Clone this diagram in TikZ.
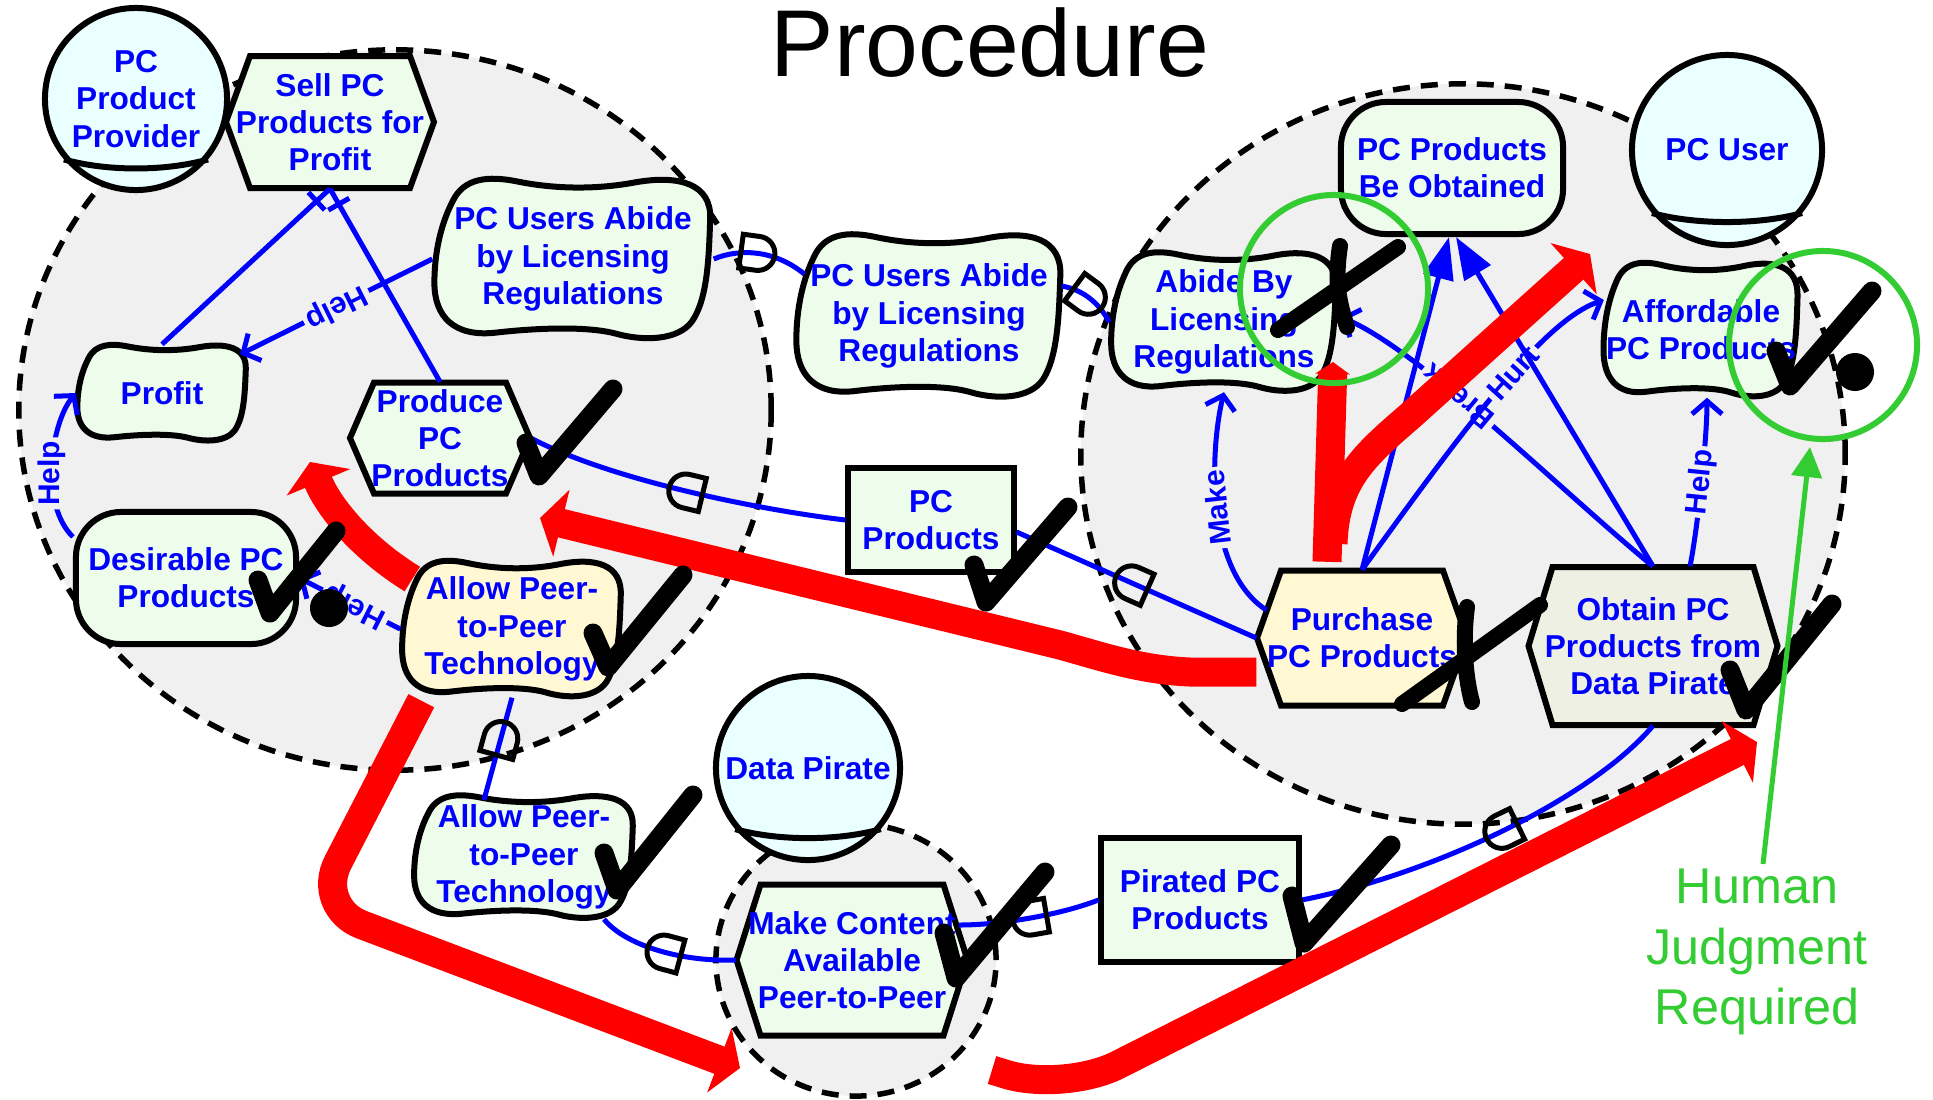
\documentclass[tikz,border=0pt]{standalone}
\usepackage{fontspec}
\setmainfont{Liberation Sans}
\usetikzlibrary{arrows.meta,positioning,shapes.misc}

\definecolor{textblue}{HTML}{0000FF}
\definecolor{linkblue}{HTML}{0000FF}
\definecolor{goalfill}{HTML}{EEFDEB}
\definecolor{actorfill}{HTML}{EAFFFF}
\definecolor{taskyellow}{HTML}{FFF8D2}
\definecolor{pirategray}{HTML}{EEF0E4}
\definecolor{bggray}{HTML}{F0F0F0}
\definecolor{judgegreen}{HTML}{33CC33}

% soft goal: name, x, y, width, height, fill, text
\newcommand{\softgoal}[7]{%
  \filldraw[softline, fill=#6, shift={(#2,#3)}, xscale=#4/2, yscale=#5/2]
    (-0.86,-0.72) .. controls (-0.78,-1.02) and (-0.6,-1.04) .. (-0.4,-0.97)
    .. controls (-0.15,-0.88) and (0.15,-0.86) .. (0.45,-0.96)
    .. controls (0.75,-1.05) and (0.99,-0.95) .. (0.98,-0.5)
    .. controls (0.97,0) and (0.96,0.5) .. (0.85,0.78)
    .. controls (0.75,1.02) and (0.5,1.03) .. (0.3,0.93)
    .. controls (0.1,0.84) and (-0.25,0.86) .. (-0.55,0.92)
    .. controls (-0.85,0.98) and (-0.99,0.72) .. (-0.99,0.3)
    .. controls (-0.99,-0.1) and (-0.94,-0.45) .. (-0.86,-0.72) -- cycle;
  \node[lbl, minimum width=#4*0.01cm, minimum height=#5*0.01cm] (#1) at (#2,#3) {#7};}

% task: name, x, y, width, height, fill, text
\newcommand{\taskhex}[7]{%
  \filldraw[softline, fill=#6] (#2-#4/2,#3) -- (#2-#4/2+24,#3-#5/2) -- (#2+#4/2-24,#3-#5/2)
    -- (#2+#4/2,#3) -- (#2+#4/2-24,#3+#5/2) -- (#2-#4/2+24,#3+#5/2) -- cycle;
  \node[lbl, minimum width=#4*0.01cm, minimum height=#5*0.01cm] (#1) at (#2,#3) {#7};}

\begin{document}
\begin{tikzpicture}[x=0.01cm, y=-0.01cm,
    boundary/.style={fill=bggray, draw=black, line width=0.055cm, dash pattern=on 0.17cm off 0.11cm},
    lbl/.style={text=textblue, font=\bfseries\fontsize{9}{10.6}\selectfont, align=center, inner sep=0pt},
    actorshape/.style={circle, draw=black, fill=actorfill, line width=0.06cm, lbl},
    softline/.style={draw=black, line width=0.06cm},
    goal/.style={rectangle, rounded corners=0.45cm, draw=black, fill=goalfill, line width=0.06cm, lbl},
    res/.style={rectangle, draw=black, fill=goalfill, line width=0.06cm, lbl},
    link/.style={draw=linkblue, line width=0.05cm},
    barb/.style={-{Straight Barb[length=0.13cm,width=0.3cm]}},
    meansend/.style={-{Triangle[length=0.42cm,width=0.3cm]}, fill=linkblue},
    linklbl/.style={text=linkblue, font=\bfseries\fontsize{8.5}{10}\selectfont, fill=bggray, inner sep=1pt, sloped, allow upside down},
    dbar/.style={rectangle, draw=linkblue, line width=0.05cm, minimum width=0pt, minimum height=0.24cm, inner sep=0pt, sloped},
    dmark/.style={rounded rectangle, rounded rectangle left arc=none, draw=black, line width=0.05cm,
      minimum width=0.28cm, minimum height=0.34cm, inner sep=0pt, sloped, allow upside down},
    redflow/.style={draw=red, line width=0.29cm, -{Triangle[length=0.22cm,width=0.68cm]}},
    checkmark/.style={draw=black, line width=0.19cm, line cap=round, line join=round},
    judge/.style={draw=judgegreen, line width=0.06cm}]
  \useasboundingbox (0,0) rectangle (1933,1099);

  % title
  \node[anchor=base, font=\fontsize{27}{32}\selectfont] (title) at (990,76) {Procedure};

  % actor boundaries
  \filldraw[boundary] (395,410) ellipse[x radius=3.76cm, y radius=3.6cm];
  \filldraw[boundary] (1463,454) ellipse[x radius=3.82cm, y radius=3.7cm];
  \filldraw[boundary] (856,960) ellipse[x radius=1.4cm, y radius=1.36cm];

  % actors
  \node[actorshape, minimum size=1.82cm] (ppp) at (136,99) {PC\\Product\\Provider};
  \draw[softline] (ppp.220) .. controls +(43,12) and +(-43,12) .. (ppp.320);
  \node[actorshape, minimum size=1.9cm] (pcu) at (1727,150) {PC User};
  \draw[softline] (pcu.220) .. controls +(44,12) and +(-44,12) .. (pcu.320);
  \node[actorshape, minimum size=1.84cm] (dpr) at (808,768) {Data Pirate};
  \draw[softline] (dpr.220) .. controls +(43,12) and +(-43,12) .. (dpr.320);

  % PC product provider
  \taskhex{sell}{330}{122}{208}{132}{goalfill}{Sell PC\\Products for\\Profit}
  \softgoal{pcua}{573}{259}{280}{160}{goalfill}{PC Users Abide\\by Licensing\\Regulations}
  \softgoal{profit}{162}{393}{171}{96}{goalfill}{Profit}
  \taskhex{produce}{440}{438}{180}{111}{goalfill}{Produce\\PC\\Products}
  \node[goal, minimum width=2.2cm, minimum height=1.32cm] (desirable) at (186,578) {Desirable PC\\Products};
  \softgoal{allowl}{512}{629}{222}{136}{taskyellow}{Allow Peer-\\to-Peer\\Technology}

  % dependums
  \softgoal{pcum}{929}{316}{268}{163}{goalfill}{PC Users Abide\\by Licensing\\Regulations}
  \node[res, minimum width=1.65cm, minimum height=1.03cm] (pcprod) at (931,520) {PC\\Products};
  \softgoal{allowm}{524}{857}{222}{123}{goalfill}{Allow Peer-\\to-Peer\\Technology}
  \node[res, minimum width=1.97cm, minimum height=1.24cm] (pirated) at (1200,900) {Pirated PC\\Products};

  % data pirate
  \taskhex{make}{852}{960}{231}{151}{goalfill}{Make Content\\Available\\Peer-to-Peer}

  % PC user
  \node[goal, minimum width=2.22cm, minimum height=1.32cm] (obtained) at (1452,168) {PC Products\\Be Obtained};
  \softgoal{abide}{1224}{322}{228}{139}{goalfill}{Abide By\\Licensing\\Regulations}
  \softgoal{afford}{1701}{330}{197}{134}{goalfill}{Affordable\\PC Products}
  \taskhex{purchase}{1362}{638}{210}{135}{taskyellow}{Purchase\\PC Products}
  \taskhex{obtain}{1653}{646}{249}{158}{pirategray}{Obtain PC\\Products from\\Data Pirate}

  % links inside actors
  \draw[link] (profit.north) -- (sell.south) node[dbar, pos=0.92] {};
  \draw[link] (produce.north) -- (sell.south) node[dbar, pos=0.92] {};
  \draw[link, barb] (pcua.west) -- ([shift={(-8,10)}]profit.north east) node[linklbl, pos=0.5] {Help};
  \draw[link, barb] (desirable.160) .. controls (40,505) and (50,425) .. (profit.west) node[linklbl, pos=0.45] {Help};
  \draw[link, barb] (allowl.west) -- (desirable.east) node[linklbl, pos=0.45] {Help};
  \draw[link, barb] ([shift={(10,-28)}]purchase.west) .. controls (1205,570) and (1210,450) .. (abide.south) node[linklbl, pos=0.5] {Make};
  \draw[link, barb] (obtain.north) .. controls (1560,490) and (1420,350) .. ([shift={(2,-5)}]abide.east) node[linklbl, pos=0.6] {Break};
  \draw[link, barb] (purchase.north) .. controls (1470,420) and (1545,320) .. ([shift={(2,-30)}]afford.west) node[linklbl, pos=0.55] {Hurt};
  \draw[link, barb] ([shift={(37,0)}]obtain.north) .. controls +(8,-40) and +(0,40) .. ([shift={(6,0)}]afford.south) node[linklbl, pos=0.5] {Help};
  \draw[link, meansend] (purchase.north) -- ([shift={(-3,0)}]obtained.south);
  \draw[link, meansend] (obtain.north) -- ([shift={(4,0)}]obtained.south);

  % dependencies
  \draw[link] (pcua.east) .. controls (740,248) and (775,250) .. ([shift={(10,-42)}]pcum.west) node[dmark, pos=0.5] {};
  \draw[link] ([shift={(-2,-30)}]pcum.east) .. controls (1085,290) and (1100,305) .. (abide.west) node[dmark, pos=0.45] {};
  \draw[link] (pcprod.west) .. controls (760,510) and (610,480) .. (produce.east) node[dmark, pos=0.5] {};
  \draw[link] (purchase.west) -- ([shift={(0,12)}]pcprod.east) node[dmark, pos=0.52] {};
  \draw[link] ([shift={(-40,5)}]allowm.north) -- (allowl.south) node[dmark, pos=0.6] {};
  \draw[link] (make.west) .. controls (680,962) and (625,945) .. ([shift={(80,0)}]allowm.south) node[dmark, pos=0.45] {};
  \draw[link] (pirated.west) .. controls (1060,915) and (1000,925) .. ([shift={(-9,-35)}]make.east) node[dmark, pos=0.5] {};
  \draw[link] (obtain.south) .. controls (1590,800) and (1430,875) .. (pirated.east) node[dmark, pos=0.5] {};

  % red propagation arrows
  \coordinate (redtipa) at (310,462);
  \coordinate (redtipb) at (540,518);
  \coordinate (redtipc) at (1333,362);
  \coordinate (redtipd) at (1590,254);
  \coordinate (redtipe) at (740,1068);
  \coordinate (redstartf) at (992,1070);
  \coordinate (redtipf) at (1757,742);
  \draw[redflow] ([shift={(12,-50)}]allowl.west) .. controls (365,550) and (330,510) .. (redtipa);
  \draw[redflow] ([shift={(0,34)}]purchase.west) -- (1190,672) .. controls (1140,670) and (1100,656) .. (1060,645) -- (redtipb);
  \draw[redflow, -{Triangle[length=0.12cm,width=0.34cm]}] ([shift={(-35,-8)}]purchase.north) -- (redtipc);
  \draw[redflow] ([shift={(-29,-26)}]purchase.north) .. controls (1335,480) and (1365,455) .. (1410,416) -- (redtipd);
  \draw[redflow, rounded corners=0.5cm] ([shift={(21,3)}]allowl.south west) -- (315,907) -- (redtipe);
  \draw[redflow, rounded corners=0.6cm] (redstartf) -- (1064,1092) -- (redtipf);

  % evaluation marks
  \draw[checkmark] (526,443) -- (539,476) -- (613,389);
  \draw[checkmark] (258,580) -- (270,613) -- (336,531);
  \fill (329,608) circle[radius=0.19cm];
  \draw[checkmark] (593,633) -- (608,667) -- (683,575);
  \draw[checkmark] (974,565) -- (986,602) -- (1068,507);
  \draw[checkmark] (604,853) -- (617,890) -- (693,795);
  \draw[checkmark] (944,933) -- (956,978) -- (1045,872);
  \draw[checkmark] (1292,896) -- (1304,943) -- (1391,845);
  \draw[checkmark] (1776,351) -- (1790,386) -- (1872,291);
  \fill (1855,372) circle[radius=0.19cm];
  \draw[checkmark] (1730,670) -- (1746,710) -- (1832,604);
  \draw[checkmark, line width=0.16cm] (1278,330) -- (1398,247);
  \draw[checkmark, line width=0.16cm] (1340,246) .. controls (1334,285) and (1340,305) .. (1347,327);
  \draw[checkmark, line width=0.16cm] (1402,704) -- (1540,605);
  \draw[checkmark, line width=0.16cm] (1467,607) .. controls (1462,645) and (1466,680) .. (1472,702);

  % human judgment
  \draw[judge] (1334,289) circle[radius=0.94cm];
  \draw[judge] (1823,345) circle[radius=0.94cm];
  \node[text=judgegreen, font=\fontsize{14.3}{17.3}\selectfont, align=center, inner sep=0pt] (human) at (1757,952) {Human\\Judgment\\Required};
  \draw[judge, line width=0.05cm, fill=judgegreen, -{Triangle[length=0.3cm,width=0.3cm]}] ([shift={(6,-4)}]human.north) -- (1810,447);
\end{tikzpicture}
\end{document}
